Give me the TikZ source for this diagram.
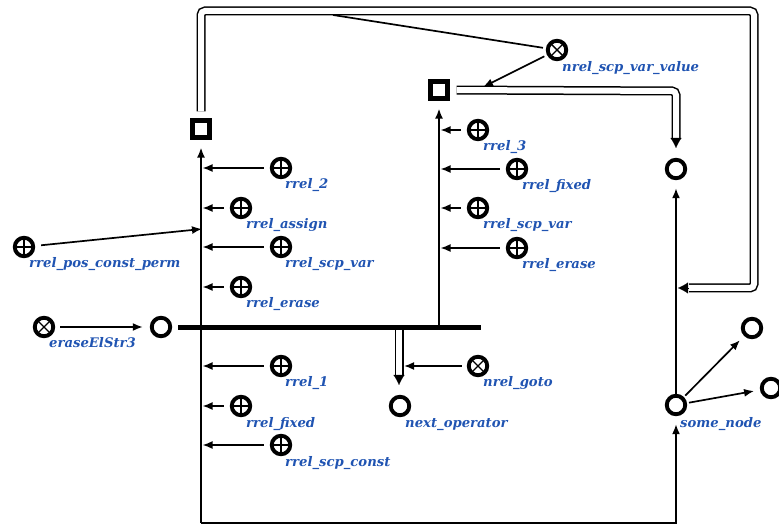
\documentclass[tikz,border=0pt]{standalone}
\usepackage{fontspec}
\setmainfont{DejaVu Serif}
\usetikzlibrary{arrows.meta}
\definecolor{lblue}{RGB}{32,84,178}
\begin{document}
\begin{tikzpicture}[x=1pt,y=-1pt,
  vnode/.style={circle,draw,fill=white,line width=3.9pt,minimum size=18.5pt,inner sep=0pt},
  plusnode/.style={vnode,path picture={\draw[line width=1.1pt] (path picture bounding box.north)--(path picture bounding box.south) (path picture bounding box.west)--(path picture bounding box.east);}},
  crossnode/.style={vnode,path picture={\draw[line width=1.4pt] (path picture bounding box.north west)--(path picture bounding box.south east) (path picture bounding box.north east)--(path picture bounding box.south west);}},
  sqnode/.style={rectangle,draw,fill=white,line width=4.2pt,minimum size=17pt,inner sep=0pt},
  lbl/.style={text=lblue,font=\bfseries\itshape\fontsize{13.2}{15}\selectfont,anchor=base west,inner sep=0pt},
  conn/.style={line width=1.7pt,-{Latex[length=10pt,width=8pt]}},
  ln/.style={line width=1.7pt},
  dbl/.style={double,line width=1.5pt,double distance=6pt},
  dtip/.style={line width=0.1pt,-{Latex[length=10pt,width=11pt]}},
  busline/.style={line width=5pt}
]
\useasboundingbox (0,0) rectangle (779,526);

% nodes
\node[vnode] (c0) at (161,327) {};
\node[crossnode] (e3) at (44,327) {};
\node[sqnode] (sq1) at (201,129) {};
\node[sqnode] (sq2) at (439,90) {};
\node[vnode] (ctop) at (676,169) {};
\node[vnode] (sn) at (676,405) {};
\node[vnode] (c3) at (752,328) {};
\node[vnode] (c4) at (771,388) {};
\node[vnode] (nop) at (400,406) {};
\node[crossnode] (nsv) at (557,50) {};
\node[crossnode] (ng) at (478,366) {};

\node[plusnode] (r2) at (281,168) {};
\node[plusnode] (rass) at (241,208) {};
\node[plusnode] (rpcp) at (24,247) {};
\node[plusnode] (rscp) at (281,247) {};
\node[plusnode] (rer) at (241,287) {};
\node[plusnode] (r1) at (281,366) {};
\node[plusnode] (rfx) at (241,406) {};
\node[plusnode] (rsc) at (281,445) {};

\node[plusnode] (r3) at (478,130) {};
\node[plusnode] (rfx2) at (517,169) {};
\node[plusnode] (rsv2) at (478,208) {};
\node[plusnode] (rer2) at (517,248) {};

% labels
\node[lbl] (e3l) at ([shift={(5,21)}]e3.center) {eraseElStr3};
\node[lbl] (snl) at ([shift={(4,22)}]sn.center) {some\_node};
\node[lbl] (nopl) at ([shift={(5,21)}]nop.center) {next\_operator};
\node[lbl] (nsvl) at ([shift={(5,22)}]nsv.center) {nrel\_scp\_var\_value};
\node[lbl] (ngl) at ([shift={(5,21)}]ng.center) {nrel\_goto};
\node[lbl] (r2l) at ([shift={(4,21)}]r2.center) {rrel\_2};
\node[lbl] (rassl) at ([shift={(5,21)}]rass.center) {rrel\_assign};
\node[lbl] (rpcpl) at ([shift={(5,21)}]rpcp.center) {rrel\_pos\_const\_perm};
\node[lbl] (rscpl) at ([shift={(4,21)}]rscp.center) {rrel\_scp\_var};
\node[lbl] (rerl) at ([shift={(5,21)}]rer.center) {rrel\_erase};
\node[lbl] (r1l) at ([shift={(4,21)}]r1.center) {rrel\_1};
\node[lbl] (rfxl) at ([shift={(5,21)}]rfx.center) {rrel\_fixed};
\node[lbl] (rscl) at ([shift={(4,21)}]rsc.center) {rrel\_scp\_const};
\node[lbl] (r3l) at ([shift={(5,21)}]r3.center) {rrel\_3};
\node[lbl] (rfx2l) at ([shift={(5,21)}]rfx2.center) {rrel\_fixed};
\node[lbl] (rsv2l) at ([shift={(5,21)}]rsv2.center) {rrel\_scp\_var};
\node[lbl] (rer2l) at ([shift={(5,21)}]rer2.center) {rrel\_erase};

% coordinates
\coordinate (lb) at (201,523);
\coordinate (mb) at (439,327);
\coordinate (busL) at (178,327.5);
\coordinate (busR) at (481,327.5);
\coordinate (d1a) at (201,11);
\coordinate (d1b) at (754,11);
\coordinate (d1c) at (754,288);
\coordinate (d1e) at (689,288);
\coordinate (d1t) at (678,288);
\coordinate (d2a) at (676,91);
\coordinate (d2e) at (676,138);
\coordinate (d2t) at (676,148);
\coordinate (nb) at (399,330);
\coordinate (nbe) at (399,375);
\coordinate (nbt) at (399,385);
\coordinate (d2p) at (483,87);
\coordinate (d1p) at (333,15);
\coordinate (ngp) at (404,366);

% main lines
\draw[conn,shorten >=8pt] (lb) -- (sq1);
\draw[conn,shorten >=8pt] (lb) -| (sn);
\draw[conn,shorten >=8pt] (mb) -- (sq2);
\draw[conn,shorten >=8pt] (sn) -- (ctop);
\draw[busline] (busL) -- (busR);

% double connectors
\draw[dbl,rounded corners=4pt,shorten <=7pt] (sq1.north) -- (d1a) -- (d1b) -- (d1c) -- (d1e);
\draw[dtip] (d1e) -- (d1t);
\draw[dbl,rounded corners=4pt,shorten <=7pt] (sq2.east) -- (d2a) -- (d2e);
\draw[dtip] (d2e) -- (d2t);
\draw[dbl] (nb) -- (nbe);
\draw[dtip] (nbe) -- (nbt);

% other arcs
\draw[conn,shorten <=5pt,shorten >=7pt] (e3) -- (c0);
\draw[conn,shorten <=2pt,shorten >=6pt] (sn) -- (c3);
\draw[conn,shorten <=2pt,shorten >=6pt] (sn) -- (c4);
\draw[conn,shorten <=3pt] (nsv) -- (d2p);
\draw[ln,shorten <=3pt] (nsv) -- (d1p);
\draw[conn,shorten <=5pt] (ng) -- (ngp);

\draw[conn,shorten <=6pt] (r2) -- (202.5,168);
\draw[conn,shorten <=6pt] (rass) -- (202.5,208);
\draw[conn,shorten <=6pt] (rpcp) -- (202,229);
\draw[conn,shorten <=6pt] (rscp) -- (202.5,247);
\draw[conn,shorten <=6pt] (rer) -- (202.5,287);
\draw[conn,shorten <=6pt] (r1) -- (202.5,366);
\draw[conn,shorten <=6pt] (rfx) -- (202.5,406);
\draw[conn,shorten <=6pt] (rsc) -- (202.5,445);

\draw[conn,shorten <=6pt] (r3) -- (440.5,130);
\draw[conn,shorten <=6pt] (rfx2) -- (440.5,169);
\draw[conn,shorten <=6pt] (rsv2) -- (440.5,208);
\draw[conn,shorten <=6pt] (rer2) -- (440.5,248);
\end{tikzpicture}
\end{document}
